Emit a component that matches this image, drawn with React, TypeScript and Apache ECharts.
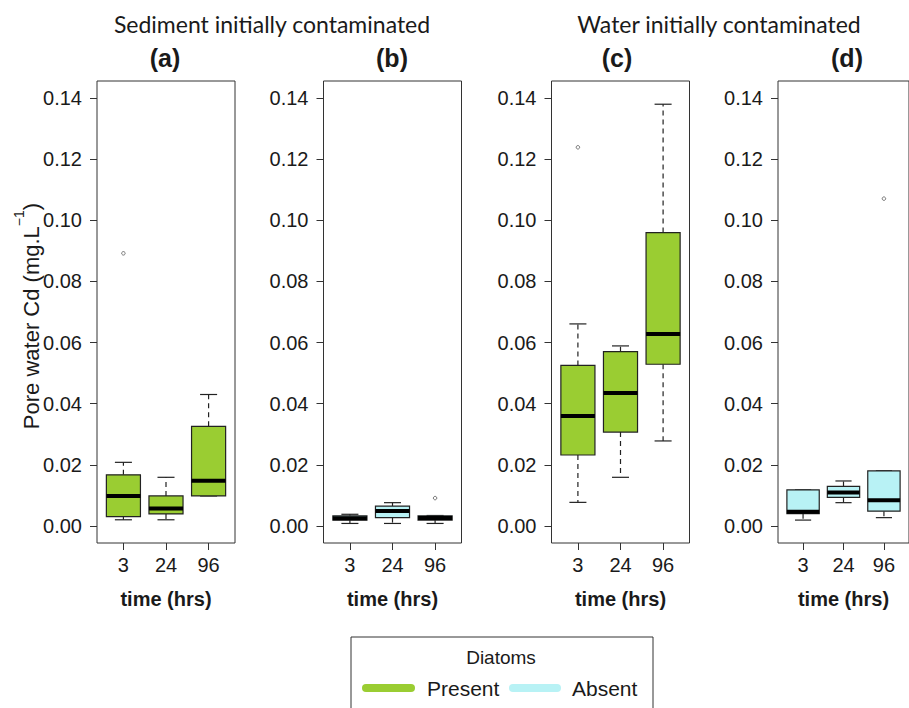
import React, { useEffect, useRef } from 'react';
import * as echarts from 'echarts';

// ---------- data ----------
const timeLabels = ['3', '24', '96'];
const timePositions = [1, 2, 3];
const yTicks = [0, 0.02, 0.04, 0.06, 0.08, 0.1, 0.12, 0.14];
const panelLabels = ['(a)', '(b)', '(c)', '(d)'];
const groupTitles = ['Sediment initially contaminated', 'Water initially contaminated'];
const legendTitle = 'Diatoms';
const legendLabels = ['Present', 'Absent'];

// each row: [min, q1, median, q3, max] for times 3, 24, 96
const panelA = [
  [0.002, 0.003, 0.0098, 0.0167, 0.0208],
  [0.002, 0.0039, 0.0057, 0.0098, 0.0159],
  [0.0098, 0.0098, 0.0148, 0.0326, 0.043],
];
const outliersA = [[1, 0.0892]];

const panelB = [
  [0.0008, 0.0019, 0.0025, 0.0033, 0.0038],
  [0.0008, 0.0027, 0.0049, 0.0065, 0.0076],
  [0.0008, 0.0019, 0.0026, 0.0033, 0.0034],
];
const outliersB = [[3, 0.0091]];

const panelC = [
  [0.0077, 0.0232, 0.036, 0.0525, 0.0661],
  [0.0159, 0.0307, 0.0435, 0.057, 0.0589],
  [0.0278, 0.0529, 0.0628, 0.096, 0.138],
];
const outliersC = [[1, 0.1239]];

const panelD = [
  [0.0019, 0.004, 0.0046, 0.0118, 0.0118],
  [0.0076, 0.0093, 0.0109, 0.0129, 0.0147],
  [0.0027, 0.0048, 0.0084, 0.018, 0.018],
];
const outliersD = [[3, 0.1071]];

const GREEN = '#9ACD32';
const CYAN = '#B8F2F5';

const panels = [
  { stats: panelA, out: outliersA, color: GREEN },
  { stats: panelB, out: outliersB, color: CYAN },
  { stats: panelC, out: outliersC, color: GREEN },
  { stats: panelD, out: outliersD, color: CYAN },
];

// ---------- layout ----------
const gridLefts = [97, 323.5, 551.5, 778];
const panelLabelX = [165, 392, 617, 847];
const gridTop = 81;
const gridW = 138;
const gridH = 462;
const TXT = '#1a1a1a';
const ARIAL = '"Liberation Sans", Arial, sans-serif';

export default function App() {
  const ref = useRef<HTMLDivElement>(null);

  useEffect(() => {
    if (!ref.current) return;
    const chart = echarts.init(ref.current, null, { renderer: 'svg' });

    const grids = gridLefts.map((l) => ({
      left: l,
      top: gridTop,
      width: gridW,
      height: gridH,
      show: true,
      borderColor: '#333',
      borderWidth: 1,
      backgroundColor: 'transparent',
    }));

    const xAxes = gridLefts.map((_, i) => ({
      type: 'value',
      gridIndex: i,
      position: 'bottom',
      min: 0.38,
      max: 3.62,
      axisLine: { show: false, onZero: false },
      splitLine: { show: false },
      axisTick: { show: true, customValues: timePositions, length: 7, lineStyle: { color: '#333' } },
      axisLabel: {
        customValues: timePositions,
        formatter: (v: number) => timeLabels[Math.round(v) - 1],
        fontSize: 20,
        color: TXT,
        fontFamily: ARIAL,
        margin: 12,
      },
      name: 'time (hrs)',
      nameLocation: 'middle',
      nameGap: 46,
      nameTextStyle: { fontSize: 20, fontWeight: 'bold', color: TXT, fontFamily: ARIAL },
    }));

    const yAxes = gridLefts.map((_, i) => ({
      type: 'value',
      gridIndex: i,
      position: 'left',
      min: -0.0056,
      max: 0.1456,
      axisLine: { show: false, onZero: false },
      splitLine: { show: false },
      axisTick: { show: true, customValues: yTicks, length: 7, lineStyle: { color: '#333' } },
      axisLabel: {
        customValues: yTicks,
        formatter: (v: number) => v.toFixed(2),
        fontSize: 20,
        color: TXT,
        fontFamily: ARIAL,
        margin: 15,
      },
    }));

    const series: any[] = [];
    panels.forEach((p, i) => {
      series.push({
        type: 'custom',
        xAxisIndex: i,
        yAxisIndex: i,
        clip: false,
        data: p.stats.map((s, k) => [timePositions[k], ...s]),
        encode: { x: 0, y: [1, 2, 3, 4, 5] },
        renderItem: (params: any, api: any) => {
          const x = api.value(0);
          const lo = api.coord([x, api.value(1)]);
          const q1 = api.coord([x, api.value(2)]);
          const med = api.coord([x, api.value(3)]);
          const q3 = api.coord([x, api.value(4)]);
          const hi = api.coord([x, api.value(5)]);
          const bw = api.size([0.8, 0])[0];
          const half = bw / 2;
          const st = bw / 4;
          const cx = lo[0];
          const dark = '#222';
          const children: any[] = [];
          if (q3[1] - hi[1] > 0.5) {
            children.push({
              type: 'line',
              shape: { x1: cx, y1: q3[1], x2: cx, y2: hi[1] },
              style: { stroke: dark, lineWidth: 1.2, lineDash: [5, 4] },
            });
          }
          if (lo[1] - q1[1] > 0.5) {
            children.push({
              type: 'line',
              shape: { x1: cx, y1: q1[1], x2: cx, y2: lo[1] },
              style: { stroke: dark, lineWidth: 1.2, lineDash: [5, 4] },
            });
          }
          children.push({
            type: 'line',
            shape: { x1: cx - st, y1: hi[1], x2: cx + st, y2: hi[1] },
            style: { stroke: dark, lineWidth: 1.2 },
          });
          children.push({
            type: 'line',
            shape: { x1: cx - st, y1: lo[1], x2: cx + st, y2: lo[1] },
            style: { stroke: dark, lineWidth: 1.2 },
          });
          children.push({
            type: 'rect',
            shape: { x: cx - half, y: q3[1], width: bw, height: q1[1] - q3[1] },
            style: { fill: p.color, stroke: dark, lineWidth: 1.2 },
          });
          children.push({
            type: 'line',
            shape: { x1: cx - half, y1: med[1], x2: cx + half, y2: med[1] },
            style: { stroke: '#000', lineWidth: 4 },
          });
          return { type: 'group', children };
        },
      });
      series.push({
        type: 'scatter',
        xAxisIndex: i,
        yAxisIndex: i,
        data: p.out,
        symbol: 'circle',
        symbolSize: 3.5,
        itemStyle: { color: '#fff', borderColor: '#555', borderWidth: 1 },
      });
    });

    const graphic: any[] = [
      {
        type: 'text',
        x: 272,
        y: 24,
        style: { text: groupTitles[0], font: '23px Lato, sans-serif', fill: TXT, align: 'center', verticalAlign: 'middle' },
      },
      {
        type: 'text',
        x: 719,
        y: 24,
        style: { text: groupTitles[1], font: '23px Lato, sans-serif', fill: TXT, align: 'center', verticalAlign: 'middle' },
      },
      ...panelLabels.map((t, i) => ({
        type: 'text',
        x: panelLabelX[i],
        y: 58,
        style: { text: t, font: `bold 25px ${ARIAL}`, fill: TXT, align: 'center', verticalAlign: 'middle' },
      })),
      {
        type: 'text',
        x: 27,
        y: 316,
        rotation: Math.PI / 2,
        style: {
          text: '{a|Pore water Cd (mg.L}{s|−1}{a|)}',
          align: 'center',
          verticalAlign: 'middle',
          fill: TXT,
          rich: {
            a: { fontSize: 22, fontFamily: ARIAL, fill: TXT, lineHeight: 30, verticalAlign: 'bottom' },
            s: { fontSize: 14, fontFamily: ARIAL, fill: TXT, lineHeight: 30, verticalAlign: 'top' },
          },
        },
      },
      {
        type: 'rect',
        shape: { x: 351, y: 637, width: 302, height: 110 },
        style: { fill: '#fff', stroke: '#333', lineWidth: 1 },
      },
      {
        type: 'text',
        x: 501,
        y: 657,
        style: { text: legendTitle, font: `19px ${ARIAL}`, fill: TXT, align: 'center', verticalAlign: 'middle' },
      },
      {
        type: 'line',
        shape: { x1: 366, y1: 688, x2: 411, y2: 688 },
        style: { stroke: GREEN, lineWidth: 8, lineCap: 'round' },
      },
      {
        type: 'text',
        x: 427,
        y: 688,
        style: { text: legendLabels[0], font: `21px ${ARIAL}`, fill: TXT, align: 'left', verticalAlign: 'middle' },
      },
      {
        type: 'line',
        shape: { x1: 513, y1: 688, x2: 557, y2: 688 },
        style: { stroke: CYAN, lineWidth: 8, lineCap: 'round' },
      },
      {
        type: 'text',
        x: 572,
        y: 688,
        style: { text: legendLabels[1], font: `21px ${ARIAL}`, fill: TXT, align: 'left', verticalAlign: 'middle' },
      },
    ];

    chart.setOption({
      animation: false,
      backgroundColor: '#fff',
      grid: grids,
      xAxis: xAxes,
      yAxis: yAxes,
      series,
      graphic,
    });

    return () => chart.dispose();
  }, []);

  return (
    <div
      ref={ref}
      style={{ position: 'fixed', left: 0, top: 0, width: 909, height: 708 }}
    />
  );
}
